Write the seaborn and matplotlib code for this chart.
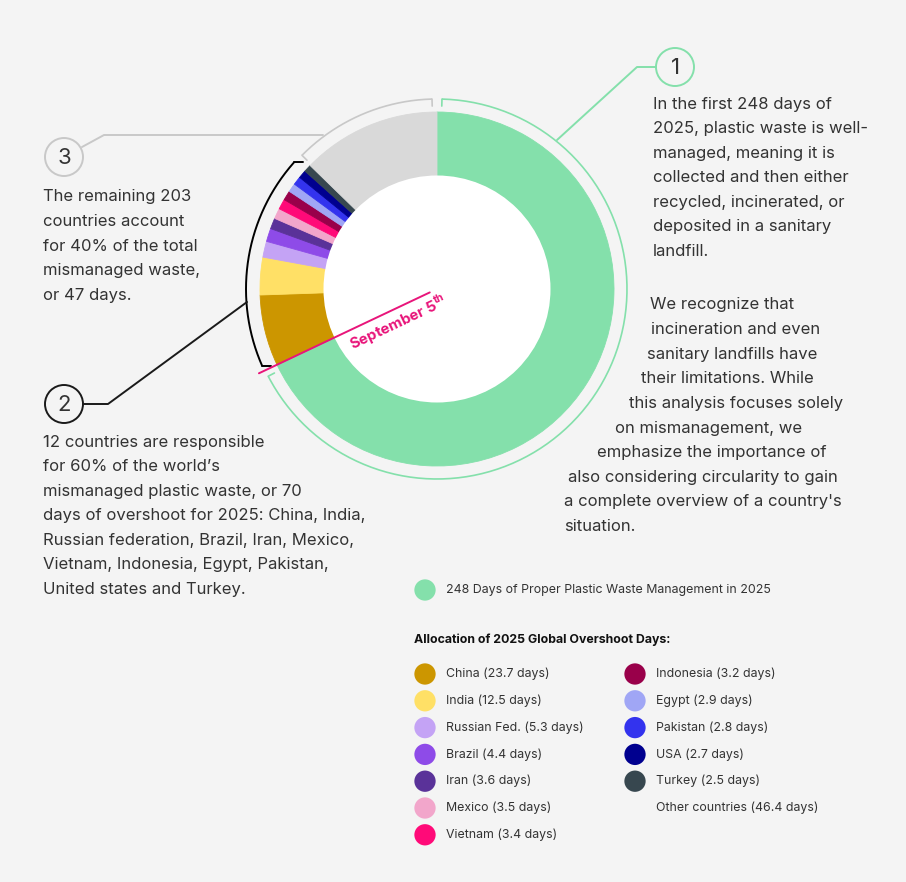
import numpy as np
import pandas as pd
import matplotlib.pyplot as plt
import seaborn as sns
from matplotlib.patches import Circle

# data
managed_days = 248
countries = ['China', 'India', 'Russian Fed.', 'Brazil', 'Iran', 'Mexico', 'Vietnam',
             'Indonesia', 'Egypt', 'Pakistan', 'USA', 'Turkey']
country_days = [23.7, 12.5, 5.3, 4.4, 3.6, 3.5, 3.4, 3.2, 2.9, 2.8, 2.7, 2.5]
other_days = 46.4
country_colors = ['#CC9600', '#FFE066', '#C4A3F5', '#8E4BE8', '#5A3299', '#F2A6CB',
                  '#FF0A78', '#99004A', '#A0A6F5', '#3333EE', '#00008F', '#37474F']
green = '#84E0AB'
other_color = '#D9D9D9'
pink = '#E8157A'
bg = '#F4F4F4'
txt = '#333333'

note1 = ["In the first 248 days of", "2025, plastic waste is well-", "managed, meaning it is",
         "collected and then either", "recycled, incinerated, or", "deposited in a sanitary",
         "landfill."]
note1b = ["We recognize that", "incineration and even", "sanitary landfills have",
          "their limitations. While", "this analysis focuses solely", "on mismanagement, we",
          "emphasize the importance of", "also considering circularity to gain",
          "a complete overview of a country's", "situation."]
note1b_x = [650, 651, 647, 641, 629, 615, 597, 568, 564, 564]
note2 = ["12 countries are responsible", "for 60% of the world\u2019s",
         "mismanaged plastic waste, or 70", "days of overshoot for 2025: China, India,",
         "Russian federation, Brazil, Iran, Mexico,", "Vietnam, Indonesia, Egypt, Pakistan,",
         "United states and Turkey."]
note3 = ["The remaining 203", "countries account", "for 40% of the total",
         "mismanaged waste,", "or 47 days."]

sns.set_style("white", {"axes.facecolor": bg, "figure.facecolor": bg})
plt.rcParams['font.family'] = ['Inter', 'DejaVu Sans']
plt.rcParams['mathtext.fontset'] = 'custom'
plt.rcParams['mathtext.rm'] = 'Inter'
plt.rcParams['mathtext.bf'] = 'Inter:bold'

cx, cy, R, r_in = 437, 289, 177, 113
total = managed_days + sum(country_days) + other_days


def pt(a, d):
    # a: degrees clockwise from top, d: distance from centre (pixel coords, y down)
    t = np.radians(a)
    return cx + d * np.sin(t), cy - d * np.cos(t)


def arc(ax, a0, a1, d, color, lw=1.2):
    a = np.linspace(a0, a1, 200)
    x, y = pt(a, d)
    ax.plot(x, y, color=color, lw=lw, solid_capstyle='butt')


fig = plt.figure(figsize=(9.06, 8.82), dpi=100)
ax = fig.add_axes([0, 0, 1, 1])

values = [managed_days] + country_days + [other_days]
colors = [green] + country_colors + [other_color]
# y axis is inverted below, so counterclockwise in data = clockwise on screen
wedges, _ = ax.pie(values, colors=colors, startangle=-90, counterclock=True, radius=R,
                   center=(cx, cy), wedgeprops=dict(width=R - r_in, linewidth=0.6))
for w, c in zip(wedges, colors):
    w.set_edgecolor(c)
ax.add_patch(Circle((cx, cy), r_in + 0.5, color='white', lw=0))
ax.set_xlim(0, 906)
ax.set_ylim(882, 0)
ax.set_aspect('equal')
ax.axis('off')

# angles of the segments
a_green = managed_days / total * 360
a_countries = (managed_days + sum(country_days)) / total * 360

# brackets around the ring
rb = 190
arc(ax, 1.5, a_green - 2, rb, green)
for a in (1.5, a_green - 2):
    x, y = pt(np.array([a, a]), np.array([rb, rb - 7]))
    ax.plot(x, y, color=green, lw=1.2)
arc(ax, a_countries + 0.5, 358.5, rb, '#C8C8C8')
for a in (a_countries + 0.5, 358.5):
    x, y = pt(np.array([a, a]), np.array([rb, rb - 7]))
    ax.plot(x, y, color='#C8C8C8', lw=1.2)
arc(ax, a_green + 1.5, a_countries - 2.5, rb + 1, 'black', lw=1.4)
for a in (a_green + 1.5, a_countries - 2.5):
    x0, y0 = pt(a, rb + 1)
    ax.plot([x0, x0 + 9], [y0, y0], color='black', lw=1.4)

# September 5th marker
x, y = pt(np.array([a_green, a_green]), np.array([8, 197]))
ax.plot(x, y, color=pink, lw=1.4)
ax.text(398, 323, r"September 5$^{\mathbf{th}}$", color=pink, fontsize=10.8, fontweight='bold',
        rotation=270 - a_green, rotation_mode='anchor', ha='center', va='center')


# numbered callouts
def callout(xc, yc, num, color, path):
    ax.add_patch(Circle((xc, yc), 19, fill=False, ec=color, lw=1.4))
    ax.text(xc, yc + 1, num, fontsize=16, color=txt, ha='center', va='center')
    ax.plot(path[0], path[1], color=color, lw=1.4)


callout(675, 67, '1', green, ([656, 637, 557], [67, 67, 140]))
callout(64, 157, '3', '#C8C8C8', ([82, 104, 323], [147, 135, 135]))
callout(64, 404, '2', '#1A1A1A', ([83, 108, 247], [404, 404, 302]))

fs = 12.0
lh = 24.6
for i, line in enumerate(note1):
    ax.text(653, 104 + i * lh, line, fontsize=fs, color=txt, va='center')
for i, (line, x0) in enumerate(zip(note1b, note1b_x)):
    ax.text(x0, 305 + i * lh, line, fontsize=fs, color=txt, va='center')
for i, line in enumerate(note2):
    ax.text(43, 442 + i * lh, line, fontsize=fs, color=txt, va='center')
for i, line in enumerate(note3):
    ax.text(43, 197 + i * lh, line, fontsize=fs, color=txt, va='center')

# legend
rows = len(countries) - 5
leg = pd.DataFrame({
    'label': ['248 Days of Proper Plastic Waste Management in 2025'] +
             [f"{c} ({d} days)" for c, d in zip(countries, country_days)],
    'color': [green] + country_colors,
})
leg['x'] = [425] + [425 if i < rows else 635 for i in range(len(countries))]
leg['y'] = [590] + [674 + (i % rows) * 26.8 for i in range(len(countries))]
sns.scatterplot(data=leg, x='x', y='y', hue='label', palette=dict(zip(leg['label'], leg['color'])),
                s=235, linewidth=0, legend=False, ax=ax)
ax.set_xlim(0, 906)
ax.set_ylim(882, 0)
ax.axis('off')
for _, row in leg.iterrows():
    ax.text(row['x'] + 21, row['y'], row['label'], fontsize=8.9, color=txt, va='center')
ax.text(656, 674 + 5 * 26.8, f"Other countries ({other_days} days)", fontsize=8.9, color=txt,
        va='center')
ax.text(414, 640, "Allocation of 2025 Global Overshoot Days:", fontsize=8.9, color='#111111',
        fontweight='bold', va='center')

fig.savefig('out.png', dpi=100, facecolor=bg)
